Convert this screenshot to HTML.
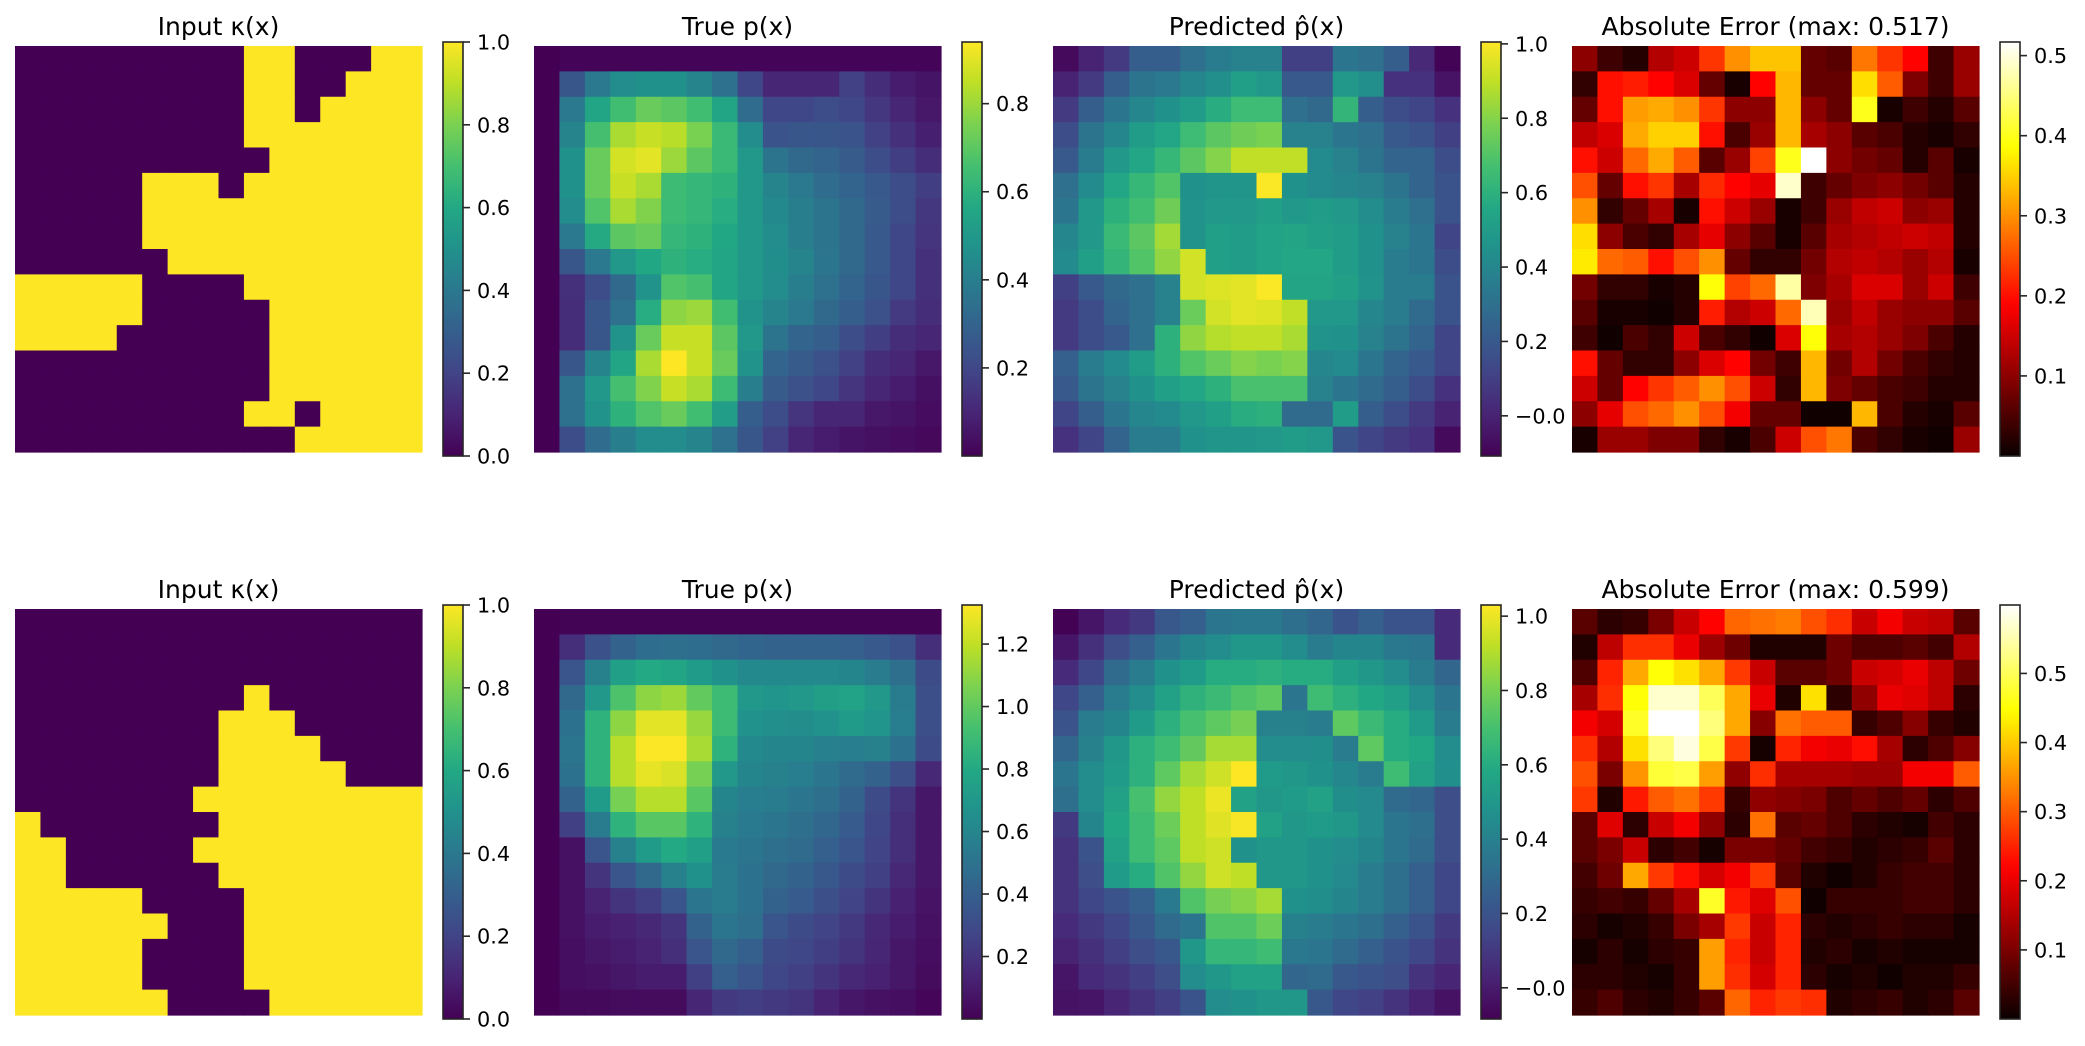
<!DOCTYPE html>
<html>
<head>
<meta charset="utf-8">
<style>
html,body{margin:0;padding:0;background:#fff;}
svg{display:block;font-family:"DejaVu Sans","Liberation Sans",sans-serif;}
</style>
</head>
<body>
<svg id="fig" width="2085" height="1046" viewBox="0 0 2085 1046" xmlns="http://www.w3.org/2000/svg">
<defs id="defs"></defs>
</svg>
<script>
// ---------- DATA ----------
const kappa1 = [
[0,0,0,0,0,0,0,0,0,1,1,0,0,0,1,1],
[0,0,0,0,0,0,0,0,0,1,1,0,0,1,1,1],
[0,0,0,0,0,0,0,0,0,1,1,0,1,1,1,1],
[0,0,0,0,0,0,0,0,0,1,1,1,1,1,1,1],
[0,0,0,0,0,0,0,0,0,0,1,1,1,1,1,1],
[0,0,0,0,0,1,1,1,0,1,1,1,1,1,1,1],
[0,0,0,0,0,1,1,1,1,1,1,1,1,1,1,1],
[0,0,0,0,0,1,1,1,1,1,1,1,1,1,1,1],
[0,0,0,0,0,0,1,1,1,1,1,1,1,1,1,1],
[1,1,1,1,1,0,0,0,0,1,1,1,1,1,1,1],
[1,1,1,1,1,0,0,0,0,0,1,1,1,1,1,1],
[1,1,1,1,0,0,0,0,0,0,1,1,1,1,1,1],
[0,0,0,0,0,0,0,0,0,0,1,1,1,1,1,1],
[0,0,0,0,0,0,0,0,0,0,1,1,1,1,1,1],
[0,0,0,0,0,0,0,0,0,1,1,0,1,1,1,1],
[0,0,0,0,0,0,0,0,0,0,0,1,1,1,1,1]];
const trueP1 = [
[0,0.01,0.01,0.01,0.01,0.01,0.01,0.01,0.01,0.01,0.01,0.01,0.01,0.01,0.01,0.01],
[0,0.25,0.38,0.45,0.47,0.47,0.42,0.35,0.2,0.1,0.1,0.1,0.18,0.12,0.07,0.05],
[0,0.38,0.55,0.65,0.72,0.7,0.65,0.55,0.33,0.2,0.2,0.22,0.2,0.15,0.1,0.06],
[0,0.42,0.66,0.82,0.86,0.84,0.75,0.63,0.45,0.24,0.25,0.25,0.24,0.18,0.13,0.08],
[0,0.47,0.72,0.88,0.9,0.8,0.7,0.63,0.5,0.36,0.32,0.3,0.27,0.22,0.17,0.12],
[0,0.47,0.72,0.86,0.82,0.64,0.62,0.6,0.5,0.42,0.38,0.33,0.3,0.26,0.22,0.17],
[0,0.45,0.68,0.82,0.76,0.64,0.62,0.58,0.5,0.44,0.4,0.36,0.32,0.27,0.22,0.15],
[0,0.38,0.57,0.7,0.72,0.62,0.6,0.56,0.5,0.45,0.4,0.36,0.32,0.26,0.2,0.14],
[0,0.25,0.38,0.5,0.56,0.6,0.58,0.55,0.5,0.46,0.42,0.37,0.32,0.26,0.2,0.13],
[0,0.13,0.22,0.32,0.48,0.68,0.66,0.55,0.5,0.45,0.4,0.35,0.3,0.25,0.2,0.13],
[0,0.12,0.25,0.35,0.58,0.78,0.8,0.65,0.48,0.42,0.38,0.32,0.28,0.23,0.16,0.12],
[0,0.12,0.25,0.48,0.72,0.86,0.86,0.7,0.5,0.36,0.3,0.28,0.22,0.17,0.12,0.1],
[0,0.25,0.42,0.55,0.82,0.94,0.86,0.72,0.48,0.3,0.27,0.23,0.18,0.12,0.1,0.06],
[0,0.35,0.5,0.66,0.76,0.86,0.82,0.64,0.4,0.27,0.23,0.2,0.14,0.1,0.07,0.04],
[0,0.35,0.48,0.6,0.68,0.72,0.65,0.52,0.28,0.22,0.14,0.1,0.1,0.06,0.05,0.03],
[0,0.22,0.33,0.4,0.45,0.45,0.42,0.35,0.25,0.18,0.1,0.07,0.05,0.04,0.03,0.02]];
const predP1 = [
[-0.08,0.0,0.08,0.22,0.22,0.3,0.35,0.38,0.38,0.1,0.1,0.33,0.3,0.22,0.02,-0.1],
[0.0,0.08,0.22,0.32,0.34,0.4,0.44,0.52,0.48,0.2,0.2,0.48,0.44,0.05,0.05,-0.05],
[0.08,0.22,0.33,0.4,0.45,0.5,0.58,0.65,0.65,0.3,0.27,0.62,0.22,0.15,0.12,0.05],
[0.15,0.32,0.4,0.5,0.55,0.65,0.72,0.76,0.78,0.38,0.38,0.33,0.3,0.2,0.18,0.1],
[0.2,0.35,0.48,0.55,0.63,0.72,0.8,0.9,0.9,0.9,0.42,0.38,0.32,0.25,0.25,0.15],
[0.3,0.42,0.55,0.63,0.7,0.45,0.47,0.47,1.0,0.45,0.42,0.4,0.38,0.32,0.25,0.18],
[0.33,0.48,0.6,0.66,0.76,0.46,0.48,0.48,0.52,0.48,0.5,0.48,0.43,0.35,0.3,0.18],
[0.4,0.48,0.64,0.72,0.85,0.46,0.52,0.5,0.53,0.54,0.52,0.5,0.45,0.38,0.33,0.12],
[0.42,0.52,0.62,0.7,0.82,0.93,0.52,0.5,0.53,0.55,0.55,0.5,0.45,0.35,0.33,0.15],
[0.1,0.2,0.27,0.3,0.38,0.93,0.95,0.96,1.0,0.54,0.54,0.52,0.46,0.35,0.35,0.18],
[0.08,0.15,0.25,0.3,0.38,0.75,0.93,0.96,0.95,0.9,0.48,0.48,0.4,0.35,0.28,0.18],
[0.08,0.15,0.2,0.3,0.6,0.82,0.88,0.9,0.9,0.86,0.46,0.45,0.38,0.32,0.25,0.12],
[0.23,0.35,0.42,0.5,0.6,0.7,0.75,0.8,0.78,0.8,0.4,0.42,0.33,0.25,0.2,0.12],
[0.2,0.32,0.38,0.45,0.52,0.55,0.6,0.68,0.68,0.68,0.38,0.33,0.28,0.22,0.15,0.05],
[0.12,0.22,0.33,0.4,0.42,0.48,0.52,0.58,0.6,0.28,0.28,0.5,0.22,0.15,0.08,0.0],
[0.05,0.12,0.25,0.35,0.35,0.45,0.47,0.47,0.48,0.5,0.48,0.18,0.12,0.08,0.05,-0.08]];
const err1 = [
[0.1,0.04,0.02,0.13,0.15,0.23,0.3,0.34,0.34,0.07,0.06,0.28,0.23,0.19,0.04,0.11],
[0.03,0.2,0.21,0.19,0.16,0.07,0.01,0.19,0.33,0.07,0.07,0.36,0.26,0.09,0.04,0.11],
[0.07,0.2,0.31,0.32,0.3,0.23,0.1,0.1,0.33,0.1,0.07,0.4,0.01,0.04,0.02,0.06],
[0.14,0.16,0.32,0.35,0.35,0.2,0.05,0.11,0.33,0.12,0.1,0.06,0.05,0.02,0.01,0.03],
[0.2,0.15,0.27,0.32,0.26,0.06,0.11,0.24,0.4,0.517,0.1,0.08,0.07,0.02,0.06,0.01],
[0.25,0.07,0.2,0.23,0.12,0.22,0.19,0.17,0.49,0.04,0.07,0.09,0.1,0.08,0.06,0.02],
[0.3,0.03,0.07,0.12,0.01,0.2,0.15,0.11,0.01,0.04,0.11,0.14,0.15,0.1,0.11,0.02],
[0.36,0.1,0.05,0.03,0.12,0.17,0.1,0.06,0.01,0.06,0.12,0.13,0.14,0.15,0.14,0.02],
[0.37,0.27,0.26,0.2,0.25,0.3,0.07,0.03,0.03,0.08,0.13,0.14,0.13,0.11,0.13,0.01],
[0.08,0.03,0.03,0.01,0.02,0.39,0.24,0.27,0.47,0.09,0.12,0.16,0.16,0.11,0.15,0.04],
[0.06,0.01,0.01,0.005,0.02,0.21,0.13,0.15,0.27,0.48,0.11,0.14,0.11,0.1,0.1,0.06],
[0.04,0.005,0.05,0.03,0.15,0.05,0.03,0.005,0.16,0.39,0.12,0.13,0.11,0.09,0.05,0.02],
[0.2,0.07,0.03,0.03,0.1,0.16,0.19,0.08,0.04,0.33,0.08,0.13,0.08,0.05,0.03,0.02],
[0.15,0.07,0.19,0.23,0.26,0.3,0.25,0.15,0.03,0.33,0.09,0.07,0.05,0.04,0.02,0.02],
[0.1,0.17,0.25,0.27,0.3,0.25,0.18,0.07,0.07,0.005,0.005,0.33,0.05,0.02,0.01,0.06],
[0.01,0.11,0.11,0.09,0.09,0.03,0.01,0.05,0.15,0.25,0.28,0.05,0.03,0.01,0.005,0.11]];
const kappa2 = [
[0,0,0,0,0,0,0,0,0,0,0,0,0,0,0,0],
[0,0,0,0,0,0,0,0,0,0,0,0,0,0,0,0],
[0,0,0,0,0,0,0,0,0,0,0,0,0,0,0,0],
[0,0,0,0,0,0,0,0,0,1,0,0,0,0,0,0],
[0,0,0,0,0,0,0,0,1,1,1,0,0,0,0,0],
[0,0,0,0,0,0,0,0,1,1,1,1,0,0,0,0],
[0,0,0,0,0,0,0,0,1,1,1,1,1,0,0,0],
[0,0,0,0,0,0,0,1,1,1,1,1,1,1,1,1],
[1,0,0,0,0,0,0,0,1,1,1,1,1,1,1,1],
[1,1,0,0,0,0,0,1,1,1,1,1,1,1,1,1],
[1,1,0,0,0,0,0,0,1,1,1,1,1,1,1,1],
[1,1,1,1,1,0,0,0,0,1,1,1,1,1,1,1],
[1,1,1,1,1,1,0,0,0,1,1,1,1,1,1,1],
[1,1,1,1,1,0,0,0,0,1,1,1,1,1,1,1],
[1,1,1,1,1,0,0,0,0,1,1,1,1,1,1,1],
[1,1,1,1,1,1,0,0,0,0,1,1,1,1,1,1]];
const trueP2 = [
[0,0.01,0.01,0.01,0.01,0.01,0.01,0.01,0.01,0.01,0.01,0.01,0.01,0.01,0.01,0.01],
[0,0.18,0.33,0.42,0.47,0.48,0.47,0.45,0.43,0.42,0.42,0.42,0.4,0.37,0.33,0.18],
[0,0.35,0.58,0.75,0.8,0.78,0.72,0.66,0.62,0.62,0.62,0.62,0.6,0.55,0.48,0.3],
[0,0.45,0.7,0.95,1.1,1.13,1.0,0.9,0.7,0.68,0.7,0.74,0.76,0.7,0.55,0.32],
[0,0.5,0.85,1.1,1.27,1.27,1.12,0.9,0.67,0.65,0.64,0.67,0.72,0.68,0.56,0.32],
[0,0.52,0.85,1.18,1.32,1.32,1.15,0.85,0.62,0.6,0.6,0.57,0.56,0.58,0.5,0.3],
[0,0.5,0.85,1.18,1.28,1.25,1.05,0.7,0.6,0.58,0.56,0.52,0.46,0.42,0.32,0.15],
[0,0.42,0.72,1.05,1.18,1.18,0.98,0.6,0.56,0.55,0.52,0.48,0.42,0.3,0.2,0.08],
[0,0.25,0.55,0.85,0.98,0.98,0.85,0.58,0.54,0.52,0.48,0.44,0.38,0.28,0.18,0.08],
[0,0.06,0.35,0.58,0.72,0.8,0.75,0.54,0.52,0.48,0.46,0.4,0.35,0.27,0.18,0.08],
[0,0.06,0.2,0.35,0.45,0.58,0.66,0.55,0.5,0.45,0.42,0.36,0.3,0.25,0.15,0.08],
[0,0.06,0.13,0.2,0.25,0.35,0.52,0.55,0.5,0.42,0.38,0.32,0.27,0.2,0.12,0.07],
[0,0.06,0.1,0.12,0.15,0.2,0.42,0.52,0.48,0.35,0.3,0.27,0.22,0.15,0.1,0.06],
[0,0.05,0.08,0.1,0.13,0.18,0.35,0.45,0.4,0.3,0.28,0.24,0.2,0.14,0.08,0.05],
[0,0.05,0.06,0.08,0.1,0.1,0.25,0.4,0.35,0.28,0.25,0.2,0.15,0.12,0.08,0.04],
[0,0.03,0.03,0.04,0.04,0.04,0.14,0.22,0.24,0.22,0.2,0.13,0.08,0.06,0.05,0.02]];
const predP2 = [
[-0.08,-0.02,0.05,0.1,0.22,0.25,0.35,0.36,0.36,0.32,0.28,0.2,0.25,0.2,0.2,0.05],
[-0.02,0.07,0.18,0.25,0.35,0.42,0.45,0.5,0.5,0.45,0.38,0.42,0.42,0.36,0.35,0.05],
[0.05,0.15,0.3,0.38,0.48,0.52,0.6,0.6,0.62,0.6,0.6,0.54,0.5,0.45,0.38,0.28],
[0.15,0.25,0.38,0.45,0.55,0.63,0.67,0.72,0.75,0.35,0.68,0.62,0.58,0.54,0.45,0.35],
[0.2,0.38,0.42,0.52,0.62,0.7,0.75,0.8,0.4,0.4,0.38,0.75,0.67,0.6,0.52,0.38],
[0.28,0.4,0.5,0.62,0.68,0.76,0.88,0.88,0.45,0.45,0.46,0.38,0.75,0.6,0.58,0.45],
[0.35,0.45,0.52,0.62,0.75,0.88,0.95,1.03,0.52,0.5,0.48,0.43,0.38,0.68,0.55,0.47],
[0.32,0.45,0.55,0.7,0.85,0.92,1.0,0.55,0.5,0.52,0.55,0.46,0.44,0.3,0.28,0.18],
[0.1,0.42,0.58,0.68,0.78,0.92,0.98,1.02,0.55,0.5,0.52,0.5,0.44,0.35,0.32,0.18],
[0.08,0.2,0.55,0.68,0.75,0.92,0.95,0.48,0.5,0.5,0.48,0.45,0.42,0.35,0.3,0.18],
[0.08,0.18,0.52,0.6,0.72,0.85,0.95,0.92,0.5,0.5,0.48,0.44,0.38,0.32,0.25,0.15],
[0.08,0.15,0.2,0.25,0.37,0.72,0.8,0.83,0.88,0.48,0.46,0.42,0.38,0.32,0.25,0.15],
[0.05,0.1,0.15,0.22,0.3,0.35,0.72,0.72,0.78,0.4,0.38,0.35,0.32,0.25,0.2,0.1],
[0.02,0.07,0.12,0.18,0.22,0.5,0.65,0.65,0.68,0.36,0.35,0.3,0.25,0.2,0.15,0.08],
[-0.02,0.05,0.08,0.12,0.18,0.45,0.5,0.55,0.55,0.28,0.3,0.22,0.2,0.18,0.08,0.03],
[-0.03,-0.02,0.03,0.08,0.12,0.2,0.45,0.48,0.5,0.5,0.22,0.15,0.13,0.08,0.02,-0.03]];
const err2 = [
[0.07,0.03,0.04,0.1,0.17,0.22,0.31,0.32,0.33,0.29,0.26,0.17,0.21,0.17,0.16,0.07],
[0.02,0.16,0.26,0.26,0.2,0.13,0.09,0.02,0.02,0.02,0.09,0.06,0.06,0.07,0.05,0.15],
[0.06,0.25,0.37,0.45,0.42,0.37,0.27,0.17,0.07,0.07,0.09,0.17,0.18,0.2,0.16,0.09],
[0.14,0.26,0.45,0.57,0.57,0.5,0.37,0.2,0.02,0.42,0.03,0.12,0.2,0.19,0.16,0.03],
[0.21,0.18,0.47,0.599,0.599,0.52,0.37,0.11,0.32,0.3,0.3,0.04,0.06,0.11,0.04,0.02],
[0.26,0.15,0.42,0.52,0.58,0.49,0.27,0.01,0.25,0.21,0.2,0.23,0.14,0.03,0.06,0.11],
[0.29,0.1,0.35,0.48,0.49,0.36,0.12,0.26,0.14,0.14,0.14,0.13,0.13,0.21,0.21,0.3],
[0.27,0.02,0.24,0.3,0.32,0.27,0.04,0.12,0.11,0.1,0.06,0.08,0.06,0.08,0.03,0.06],
[0.07,0.19,0.03,0.17,0.21,0.12,0.03,0.32,0.07,0.08,0.06,0.03,0.02,0.01,0.05,0.03],
[0.07,0.1,0.17,0.03,0.05,0.01,0.1,0.1,0.08,0.05,0.04,0.02,0.03,0.04,0.07,0.03],
[0.05,0.09,0.37,0.27,0.23,0.18,0.21,0.27,0.07,0.02,0.005,0.02,0.04,0.05,0.05,0.03],
[0.04,0.05,0.04,0.08,0.14,0.47,0.24,0.19,0.29,0.005,0.04,0.04,0.04,0.05,0.05,0.03],
[0.03,0.01,0.02,0.04,0.1,0.14,0.27,0.17,0.25,0.03,0.02,0.03,0.04,0.03,0.03,0.01],
[0.01,0.03,0.01,0.03,0.04,0.36,0.25,0.17,0.25,0.02,0.03,0.01,0.02,0.01,0.01,0.01],
[0.03,0.03,0.02,0.01,0.04,0.36,0.26,0.18,0.25,0.03,0.01,0.02,0.005,0.02,0.02,0.04],
[0.04,0.06,0.03,0.02,0.04,0.07,0.31,0.25,0.27,0.26,0.02,0.03,0.04,0.02,0.03,0.07]];

// colour limits (vmin, vmax) per panel
const vmins1 = [0, 0, -0.108, 0];
const vmaxs1 = [1, 0.94, 1.005, 0.517];
const vmins2 = [0, 0, -0.084, 0];
const vmaxs2 = [1, 1.325, 1.03, 0.599];
const ticks1 = [[0,0.2,0.4,0.6,0.8,1.0],[0.2,0.4,0.6,0.8],[0,0.2,0.4,0.6,0.8,1.0],[0.1,0.2,0.3,0.4,0.5]];
const ticks2 = [[0,0.2,0.4,0.6,0.8,1.0],[0.2,0.4,0.6,0.8,1.0,1.2],[0,0.2,0.4,0.6,0.8,1.0],[0.1,0.2,0.3,0.4,0.5]];
const tickLabels1 = [["0.0","0.2","0.4","0.6","0.8","1.0"],["0.2","0.4","0.6","0.8"],["\u22120.0","0.2","0.4","0.6","0.8","1.0"],["0.1","0.2","0.3","0.4","0.5"]];
const tickLabels2 = [["0.0","0.2","0.4","0.6","0.8","1.0"],["0.2","0.4","0.6","0.8","1.0","1.2"],["\u22120.0","0.2","0.4","0.6","0.8","1.0"],["0.1","0.2","0.3","0.4","0.5"]];
const titles1 = ["Input \u03ba(x)","True p(x)","Predicted p\u0302(x)","Absolute Error (max: 0.517)"];
const titles2 = ["Input \u03ba(x)","True p(x)","Predicted p\u0302(x)","Absolute Error (max: 0.599)"];

// ---------- RENDER ----------
const NS = "http://www.w3.org/2000/svg";
const svg = document.getElementById('fig');
const defs = document.getElementById('defs');
const VIR = ["#440154","#482475","#414487","#355f8d","#2a788e","#21918c","#22a884","#44bf70","#7ad151","#bddf26","#fde725"];
function hex(h){return [parseInt(h.substr(1,2),16),parseInt(h.substr(3,2),16),parseInt(h.substr(5,2),16)];}
const VIRrgb = VIR.map(hex);
function viridis(t){
  t = Math.max(0,Math.min(1,t));
  const p = t*10, i = Math.min(9,Math.floor(p)), f = p-i;
  const a = VIRrgb[i], b = VIRrgb[i+1];
  return `rgb(${Math.round(a[0]+(b[0]-a[0])*f)},${Math.round(a[1]+(b[1]-a[1])*f)},${Math.round(a[2]+(b[2]-a[2])*f)})`;
}
function hot(t){
  t = Math.max(0,Math.min(1,t));
  const r = Math.min(1, 0.0416 + t/0.365*0.9584);
  const g = Math.max(0,Math.min(1,(t-0.365)/0.381));
  const b = Math.max(0,Math.min(1,(t-0.746)/0.254));
  return `rgb(${Math.round(r*255)},${Math.round(g*255)},${Math.round(b*255)})`;
}
function el(tag, attrs){
  const e = document.createElementNS(NS, tag);
  for (const k in attrs) e.setAttribute(k, attrs[k]);
  return e;
}
// gradients
function makeGrad(id, fn){
  const g = el('linearGradient',{id:id,x1:0,y1:1,x2:0,y2:0});
  for (let i=0;i<=40;i++){
    g.appendChild(el('stop',{offset:(i/40),'stop-color':fn(i/40)}));
  }
  defs.appendChild(g);
}
makeGrad('gvir', viridis);
makeGrad('ghot', hot);

const rows = [
  {y0:46, data:[kappa1,trueP1,predP1,err1], vmin:vmins1, vmax:vmaxs1, ticks:ticks1, labels:tickLabels1, titles:titles1},
  {y0:609, data:[kappa2,trueP2,predP2,err2], vmin:vmins2, vmax:vmaxs2, ticks:ticks2, labels:tickLabels2, titles:titles2}
];
const panelNames = ['input-kappa','true-p','predicted-p','absolute-error'];
const W = 407, H = 406, N = 16;

rows.forEach((row, r) => {
  for (let i=0;i<4;i++){
    const x0 = 15 + 519*i, y0 = row.y0;
    const grid = row.data[i];
    const vmin = row.vmin[i], vmax = row.vmax[i];
    const cmap = (i===3) ? hot : viridis;
    const xs = c => x0 + c*W/N;
    const ys = rr => y0 + rr*H/N;
    const colorOf = v => cmap((v - vmin)/(vmax - vmin));

    const g = el('g',{});
    
    
    svg.appendChild(g);
    for (let rr=0; rr<N; rr++){
      for (let c=0; c<N; c++){
        const rect = el('rect',{x:xs(c).toFixed(2), y:ys(rr).toFixed(2), width:(W/N+0.6).toFixed(2), height:(H/N+0.6).toFixed(2), fill:colorOf(grid[rr][c])});
        
        
        g.appendChild(rect);
      }
    }
    // title
    const t = el('text',{x:x0+W/2, y:y0-11, 'text-anchor':'middle', 'font-size':25, fill:'#000'});
    t.textContent = row.titles[i];
    
    
    svg.appendChild(t);
    // colorbar
    const cx = x0 + 428, cw = 20, ctop = y0 - 4, cbot = y0 + 410;
    const cb = el('rect',{x:cx, y:ctop, width:cw, height:cbot-ctop, fill: i===3 ? 'url(#ghot)' : 'url(#gvir)', stroke:'#262626', 'stroke-width':1.6});
    
    
    svg.appendChild(cb);
    const cy = v => cbot - (v - vmin)/(vmax - vmin)*(cbot - ctop);
    row.ticks[i].forEach((tv, k) => {
      const yy = cy(tv);
      const tick = el('line',{x1:cx+cw, x2:cx+cw+7, y1:yy, y2:yy, stroke:'#262626', 'stroke-width':1.6});
      
      
      svg.appendChild(tick);
      const lab = el('text',{x:cx+cw+14, y:yy+7.5, 'font-size':20.8, fill:'#000'});
      lab.textContent = row.labels[i][k];
      
      
      svg.appendChild(lab);
    });
  }
});
</script>
</body>
</html>
